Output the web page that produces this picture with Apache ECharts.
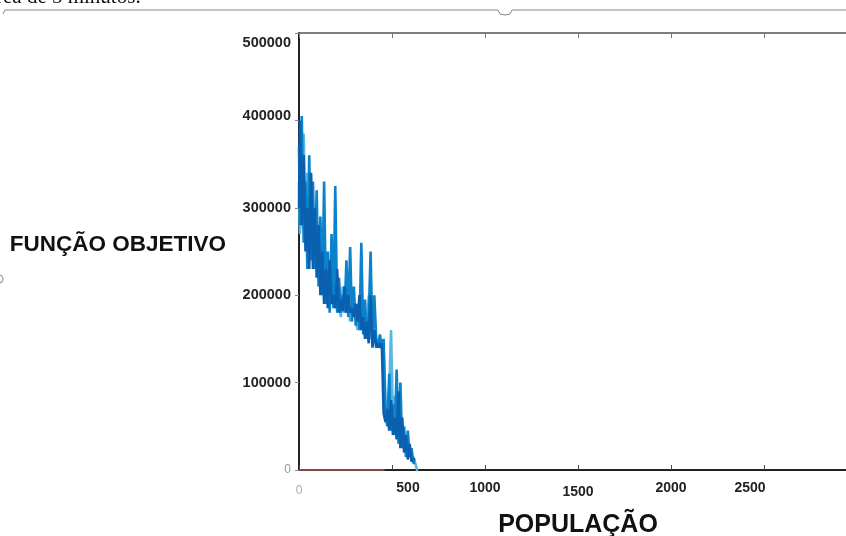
<!DOCTYPE html>
<html>
<head>
<meta charset="utf-8">
<script src="https://cdn.jsdelivr.net/npm/echarts@6/dist/echarts.min.js"></script>
<style>html,body{margin:0;padding:0;background:#fff}#c{width:846px;height:536px}</style>
</head>
<body>
<div id="c"></div>
<script>
var population = [0,10,20,30,40,50,60,70,80,90,100,110,120,130,140,150,160,170,180,190,200,210,220,230,240,250,260,270,280,290,300,310,320,330,340,350,360,370,380,390,400,410,420,430,440,450,460,470,480,490,500,510,520,530,540,550,560,570,580,590,600,610,620,630,640];
var runDark = [300000,400000,280000,360000,250000,300000,230000,340000,230000,300000,220000,280000,200000,250000,190000,230000,185000,240000,190000,200000,185000,230000,180000,195000,182000,210000,180000,200000,180000,185000,175000,190000,170000,200000,160000,175000,150000,170000,145000,200000,140000,160000,140000,145000,140000,145000,65000,55000,70000,45000,80000,40000,60000,35000,90000,25000,60000,20000,40000,12000,30000,10000,12000,null,null];
var runMedium = [370000,280000,405000,260000,330000,230000,360000,240000,330000,230000,320000,210000,290000,200000,330000,190000,250000,180000,270000,185000,325000,180000,220000,180000,200000,180000,240000,175000,255000,170000,210000,165000,190000,160000,260000,155000,195000,150000,175000,250000,145000,200000,150000,140000,155000,140000,150000,60000,50000,110000,45000,75000,40000,115000,30000,100000,25000,50000,15000,45000,15000,25000,8000,null,null];
var runLight = [330000,270000,320000,385000,280000,340000,250000,290000,240000,280000,230000,250000,215000,260000,210000,200000,220000,195000,210000,190000,200000,185000,195000,175000,210000,190000,180000,190000,170000,180000,190000,175000,160000,185000,200000,165000,175000,155000,200000,150000,160000,150000,145000,150000,140000,148000,140000,80000,60000,90000,160000,55000,85000,50000,70000,35000,45000,25000,35000,20000,25000,10000,15000,8000,0];
var zeroLine = [[0,0],[460,0]];
var xTicks = [0,500,1000,1500,2000,2500,3000];
var yTicks = [0,100000,200000,300000,400000,500000];

function pairs(vals){ return population.map(function(p,i){ return [p, vals[i]]; }); }

var chart = echarts.init(document.getElementById('c'), null, {renderer:'canvas'});
var F = 'Liberation Sans, Arial, sans-serif';
function lab(extra){ var o={fontFamily:F, fontWeight:'bold', fontSize:14, color:'#222'}; for(var k in extra) o[k]=extra[k]; return o; }
chart.setOption({
  animation:false,
  backgroundColor:'#fff',
  grid:{left:299, top:33, width:558, height:437, containLabel:false, outerBoundsMode:'none'},
  xAxis:[{
    type:'value', min:0, max:3000, interval:500, position:'bottom',
    name:'POPULAÇÃO', nameLocation:'middle', nameGap:43,
    nameTextStyle:{fontFamily:F, fontWeight:'bold', fontSize:25, color:'#111'},
    axisLine:{show:true, onZero:false, lineStyle:{color:'#222', width:2}},
    axisTick:{show:true, inside:true, length:5, lineStyle:{color:'#444'}},
    splitLine:{show:false},
    axisLabel:{margin:11, showMaxLabel:false,
      formatter:function(v){
        if(v===0) return '{z|0}';
        if(v===500) return '{r|500}';
        if(v===2500) return '{l|2500}';
        if(v===1500) return '{d|1500}';
        return '{n|'+v+'}';
      },
      rich:{
        z:{fontFamily:F, fontSize:12, color:'#aaa', padding:[4,0,0,0]},
        r:lab({padding:[0,0,0,32]}),
        l:lab({padding:[0,28,0,0]}),
        d:lab({padding:[4,0,0,0]}),
        n:lab({})
      }
    }
  },{
    type:'value', min:0, max:3000, interval:500, position:'top',
    axisLine:{show:true, onZero:false, lineStyle:{color:'#555', width:1.5}},
    axisTick:{show:true, inside:true, length:5, lineStyle:{color:'#777'}},
    axisLabel:{show:false}, splitLine:{show:false}
  }],
  yAxis:{
    type:'value', min:0, max:500000, interval:100000,
    name:'FUNÇÃO OBJETIVO', nameLocation:'middle', nameRotate:0, nameGap:73,
    nameTextStyle:{fontFamily:F, fontWeight:'bold', fontSize:22.5, color:'#111', align:'right', verticalAlign:'bottom', lineHeight:13},
    axisLine:{show:true, lineStyle:{color:'#222', width:2}},
    axisTick:{show:true, length:4, lineStyle:{color:'#888'}},
    splitLine:{show:false},
    axisLabel:{margin:8,
      formatter:function(v){
        if(v===0) return '{z|0}';
        if(v===500000) return '{t|'+v+'}';
        if(v===400000) return '{u|'+v+'}';
        return '{n|'+v+'}';
      },
      rich:{
        z:{fontFamily:F, fontSize:12, color:'#999'},
        t:lab({fontSize:14.5, padding:[20,0,0,0]}),
        u:lab({fontSize:14.5, padding:[0,0,8,0]}),
        n:lab({fontSize:14.5})
      }
    }
  },
  series:[
    {type:'line', name:'zero', data:zeroLine, symbol:'none', lineStyle:{color:'#c0583a', width:1.5}, z:1},
    {type:'line', name:'light', data:pairs(runLight), step:'middle', symbol:'none', connectNulls:false, lineStyle:{color:'#5cb6e4', width:2.6}},
    {type:'line', name:'medium', data:pairs(runMedium), step:'middle', symbol:'none', connectNulls:false, lineStyle:{color:'#0a82cc', width:2.6}},
    {type:'line', name:'dark', data:pairs(runDark), step:'middle', symbol:'none', connectNulls:false, lineStyle:{color:'#0a5fae', width:2.6}}
  ],
  graphic:[
    {type:'text', left:-4, top:-13, style:{text:'rea de 5 minutos.', font:'21px "Liberation Serif", serif', fill:'#111'}},
    {type:'polyline', shape:{points:[[3,14],[5,10],[498,10],[500,14],[505,15],[510,14],[512,10],[846,10]]}, style:{stroke:'#888', lineWidth:1, fill:null}},
    {type:'arc', shape:{cx:-1, cy:279, r:4, startAngle:-Math.PI/2, endAngle:Math.PI/2}, style:{stroke:'#999', lineWidth:1.2, fill:null}}
  ]
});
</script>
</body>
</html>
